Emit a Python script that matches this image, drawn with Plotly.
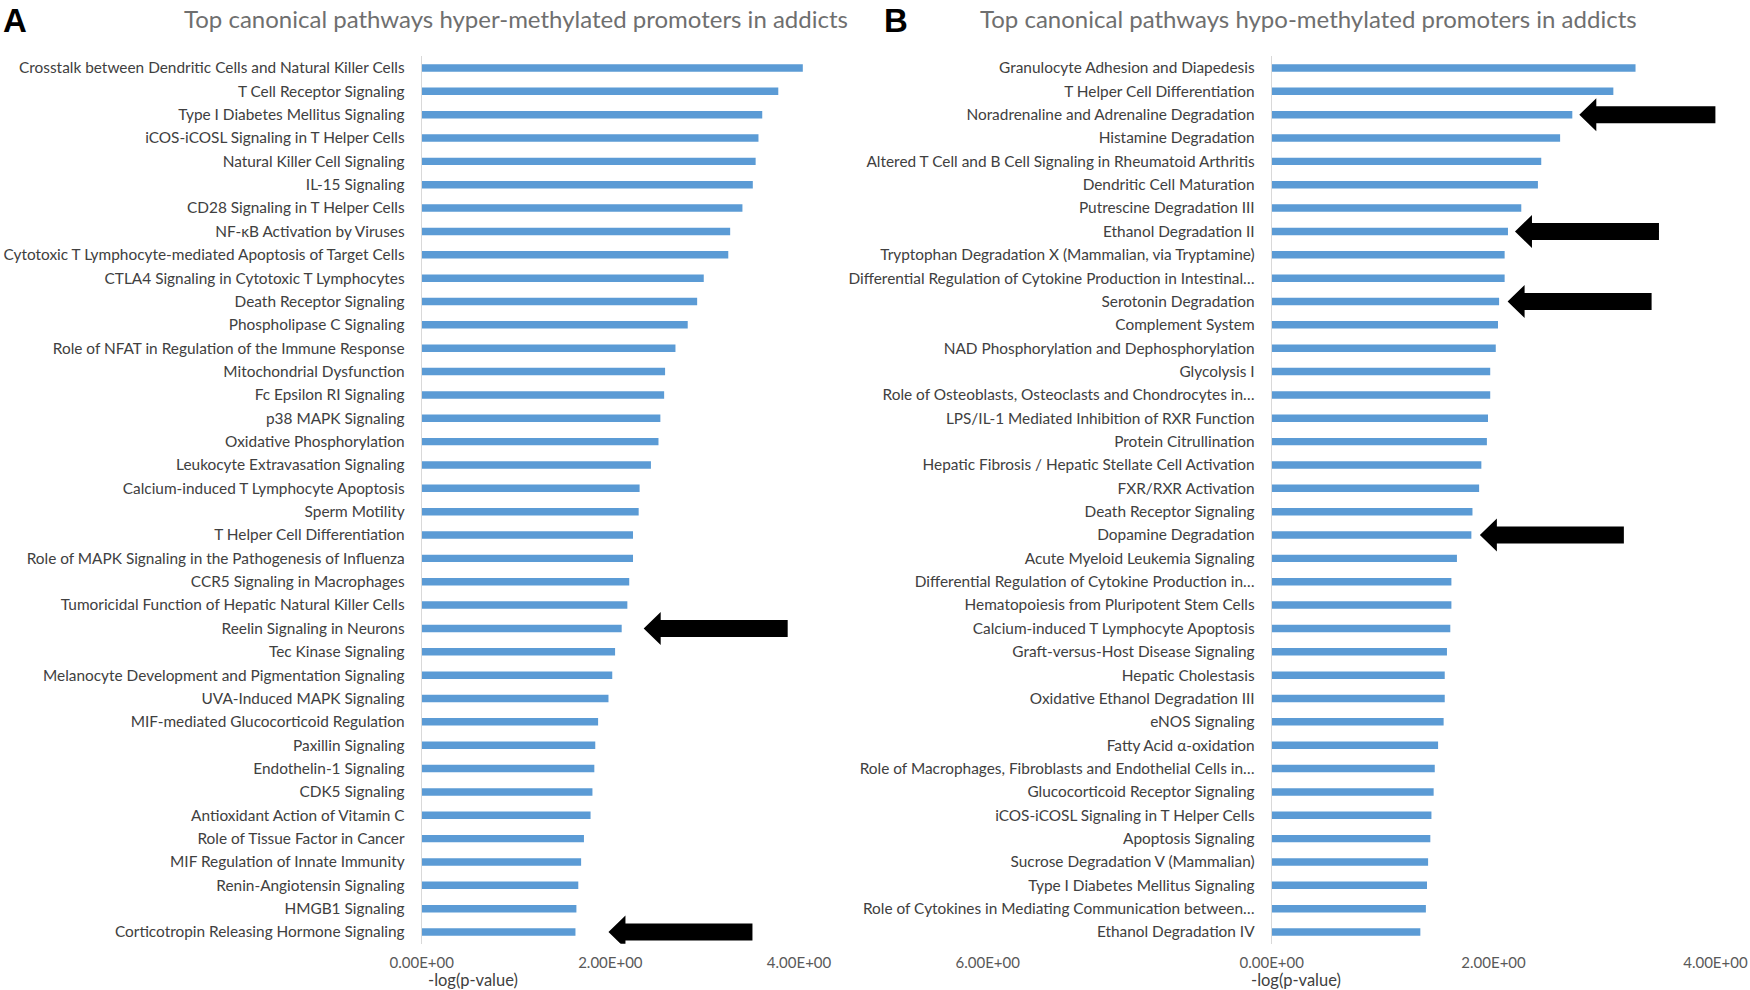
import plotly.graph_objects as go

# ---------------- data ----------------
labels_A = [
    "Crosstalk between Dendritic Cells and Natural Killer Cells",
    "T Cell Receptor Signaling",
    "Type I Diabetes Mellitus Signaling",
    "iCOS-iCOSL Signaling in T Helper Cells",
    "Natural Killer Cell Signaling",
    "IL-15 Signaling",
    "CD28 Signaling in T Helper Cells",
    "NF-κB Activation by Viruses",
    "Cytotoxic T Lymphocyte-mediated Apoptosis of Target Cells",
    "CTLA4 Signaling in Cytotoxic T Lymphocytes",
    "Death Receptor Signaling",
    "Phospholipase C Signaling",
    "Role of NFAT in Regulation of the Immune Response",
    "Mitochondrial Dysfunction",
    "Fc Epsilon RI Signaling",
    "p38 MAPK Signaling",
    "Oxidative Phosphorylation",
    "Leukocyte Extravasation Signaling",
    "Calcium-induced T Lymphocyte Apoptosis",
    "Sperm Motility",
    "T Helper Cell Differentiation",
    "Role of MAPK Signaling in the Pathogenesis of Influenza",
    "CCR5 Signaling in Macrophages",
    "Tumoricidal Function of Hepatic Natural Killer Cells",
    "Reelin Signaling in Neurons",
    "Tec Kinase Signaling",
    "Melanocyte Development and Pigmentation Signaling",
    "UVA-Induced MAPK Signaling",
    "MIF-mediated Glucocorticoid Regulation",
    "Paxillin Signaling",
    "Endothelin-1 Signaling",
    "CDK5 Signaling",
    "Antioxidant Action of Vitamin C",
    "Role of Tissue Factor in Cancer",
    "MIF Regulation of Innate Immunity",
    "Renin-Angiotensin Signaling",
    "HMGB1 Signaling",
    "Corticotropin Releasing Hormone Signaling",
]
values_A = [4.04, 3.78, 3.61, 3.57, 3.54, 3.51, 3.40, 3.27, 3.25, 2.99,
            2.92, 2.82, 2.69, 2.58, 2.57, 2.53, 2.51, 2.43, 2.31, 2.30,
            2.24, 2.24, 2.20, 2.18, 2.12, 2.05, 2.02, 1.98, 1.87, 1.84,
            1.83, 1.81, 1.79, 1.72, 1.69, 1.66, 1.64, 1.63]

labels_B = [
    "Granulocyte Adhesion and Diapedesis",
    "T Helper Cell Differentiation",
    "Noradrenaline and Adrenaline Degradation",
    "Histamine Degradation",
    "Altered T Cell and B Cell Signaling in Rheumatoid Arthritis",
    "Dendritic Cell Maturation",
    "Putrescine Degradation III",
    "Ethanol Degradation II",
    "Tryptophan Degradation X (Mammalian, via Tryptamine)",
    "Differential Regulation of Cytokine Production in Intestinal…",
    "Serotonin Degradation",
    "Complement System",
    "NAD Phosphorylation and Dephosphorylation",
    "Glycolysis I",
    "Role of Osteoblasts, Osteoclasts and Chondrocytes in…",
    "LPS/IL-1 Mediated Inhibition of RXR Function",
    "Protein Citrullination",
    "Hepatic Fibrosis / Hepatic Stellate Cell Activation",
    "FXR/RXR Activation",
    "Death Receptor Signaling",
    "Dopamine Degradation",
    "Acute Myeloid Leukemia Signaling",
    "Differential Regulation of Cytokine Production in…",
    "Hematopoiesis from Pluripotent Stem Cells",
    "Calcium-induced T Lymphocyte Apoptosis",
    "Graft-versus-Host Disease Signaling",
    "Hepatic Cholestasis",
    "Oxidative Ethanol Degradation III",
    "eNOS Signaling",
    "Fatty Acid α-oxidation",
    "Role of Macrophages, Fibroblasts and Endothelial Cells in…",
    "Glucocorticoid Receptor Signaling",
    "iCOS-iCOSL Signaling in T Helper Cells",
    "Apoptosis Signaling",
    "Sucrose Degradation V (Mammalian)",
    "Type I Diabetes Mellitus Signaling",
    "Role of Cytokines in Mediating Communication between…",
    "Ethanol Degradation IV",
]
values_B = [3.28, 3.08, 2.71, 2.60, 2.43, 2.40, 2.25, 2.13, 2.10, 2.10,
            2.05, 2.04, 2.02, 1.97, 1.97, 1.95, 1.94, 1.89, 1.87, 1.81,
            1.80, 1.67, 1.62, 1.62, 1.61, 1.58, 1.56, 1.56, 1.55, 1.50,
            1.47, 1.46, 1.44, 1.43, 1.41, 1.40, 1.39, 1.34]

ticks_A = [0, 2, 4, 6]
ticktext_A = ["0.00E+00", "2.00E+00", "4.00E+00", "6.00E+00"]
ticks_B = [0, 2, 4]
ticktext_B = ["0.00E+00", "2.00E+00", "4.00E+00"]

title_A = "Top canonical pathways hyper-methylated promoters in addicts"
title_B = "Top canonical pathways hypo-methylated promoters in addicts"
axis_title = "-log(p-value)"

# highlighted pathways (arrows)
arrows_A = ["Reelin Signaling in Neurons", "Corticotropin Releasing Hormone Signaling"]
arrows_B = ["Noradrenaline and Adrenaline Degradation", "Ethanol Degradation II",
            "Serotonin Degradation", "Dopamine Degradation"]

# ---------------- styling ----------------
W, H = 1750, 990
FONT = "Lato"
BAR = "#5B9BD5"
LBL = "#404040"


def px(xr):
    return xr / W


def py(yr):
    return 1 - yr / H


y_dom = [py(943.7), py(56.3)]
xA_dom = [px(421.7), px(987.7)]
xB_dom = [px(1271.7), px(1715.4)]

fig = go.Figure()
fig.add_trace(go.Bar(x=values_A, y=labels_A, orientation="h", xaxis="x", yaxis="y",
                     marker=dict(color=BAR, line=dict(width=0)), width=0.32,
                     hoverinfo="x+y"))
fig.add_trace(go.Bar(x=values_B, y=labels_B, orientation="h", xaxis="x2", yaxis="y2",
                     marker=dict(color=BAR, line=dict(width=0)), width=0.32,
                     hoverinfo="x+y"))

n = len(labels_A)
common_x = dict(showgrid=False, zeroline=False, showline=False, ticks="",
                automargin=False,
                tickfont=dict(family=FONT, size=15, color="#595959"),
                ticklabelstandoff=8)
common_y = dict(type="category", showgrid=False, zeroline=False, showline=True,
                automargin=False,
                linecolor="#d9d9d9", linewidth=1, ticks="",
                tickfont=dict(family=FONT, size=15.4, color=LBL),
                ticklabelstandoff=13, domain=y_dom)

fig.update_layout(
    width=W, height=H, margin=dict(l=0, r=0, t=0, b=0, pad=0),
    paper_bgcolor="white", plot_bgcolor="white", showlegend=False,
    xaxis=dict(domain=xA_dom, range=[0, 6], tickvals=ticks_A, ticktext=ticktext_A,
               anchor="y", **common_x),
    yaxis=dict(anchor="x", range=[n - 0.5, -0.5], **common_y),
    xaxis2=dict(domain=xB_dom, range=[0, 4], tickvals=ticks_B, ticktext=ticktext_B,
                anchor="y2", **common_x),
    yaxis2=dict(anchor="x2", range=[len(labels_B) - 0.5, -0.5], **common_y),
)

# titles / panel letters / axis titles
ann = []
for t, xc in [(title_A, 516), (title_B, 1308)]:
    ann.append(dict(text=t, x=px(xc), y=1, xref="paper", yref="paper",
                    showarrow=False, xanchor="center", yanchor="top", yshift=-2,
                    font=dict(family=FONT, size=24, color="#6f6f6f")))
for t, xl in [("<b>A</b>", 1), ("<b>B</b>", 882)]:
    ann.append(dict(text=t, x=px(xl), y=1, xref="paper", yref="paper",
                    showarrow=False, xanchor="left", yanchor="top",
                    font=dict(family="Liberation Sans", size=33, color="black")))
for xc in [473, 1296]:
    ann.append(dict(text=axis_title, x=px(xc), y=py(980), xref="paper", yref="paper",
                    showarrow=False, xanchor="center", yanchor="middle",
                    font=dict(family=FONT, size=16.5, color=LBL)))
fig.update_layout(annotations=ann)


# block arrows pointing at highlighted bars (pixel-sized, anchored at bar end)
def arrow_path(gap, length=144, head=17, head_h=16.5, shaft_h=8.5):
    g = gap
    return (f"M {g},0 L {g+head},{head_h} L {g+head},{shaft_h} L {g+length},{shaft_h} "
            f"L {g+length},{-shaft_h} L {g+head},{-shaft_h} L {g+head},{-head_h} Z")


shapes = []
gaps_A = [22, 33]
for name, gap in zip(arrows_A, gaps_A):
    i = labels_A.index(name)
    shapes.append(dict(type="path", xref="x", yref="y", xsizemode="pixel", ysizemode="pixel",
                       xanchor=values_A[i], yanchor=i, path=arrow_path(gap),
                       fillcolor="black", line=dict(width=0)))
gaps_B = [7, 7, 8.5, 8.5]
for name, gap in zip(arrows_B, gaps_B):
    i = labels_B.index(name)
    shapes.append(dict(type="path", xref="x2", yref="y2", xsizemode="pixel", ysizemode="pixel",
                       xanchor=values_B[i], yanchor=i, path=arrow_path(gap),
                       fillcolor="black", line=dict(width=0)))
fig.update_layout(shapes=shapes)

# remove the default 8px page margin so the figure fills the window exactly
fig.write_html("out.html",
               config={"displayModeBar": False},
               post_script="document.body.style.margin='0px';"
                           "document.body.style.overflow='hidden';")
